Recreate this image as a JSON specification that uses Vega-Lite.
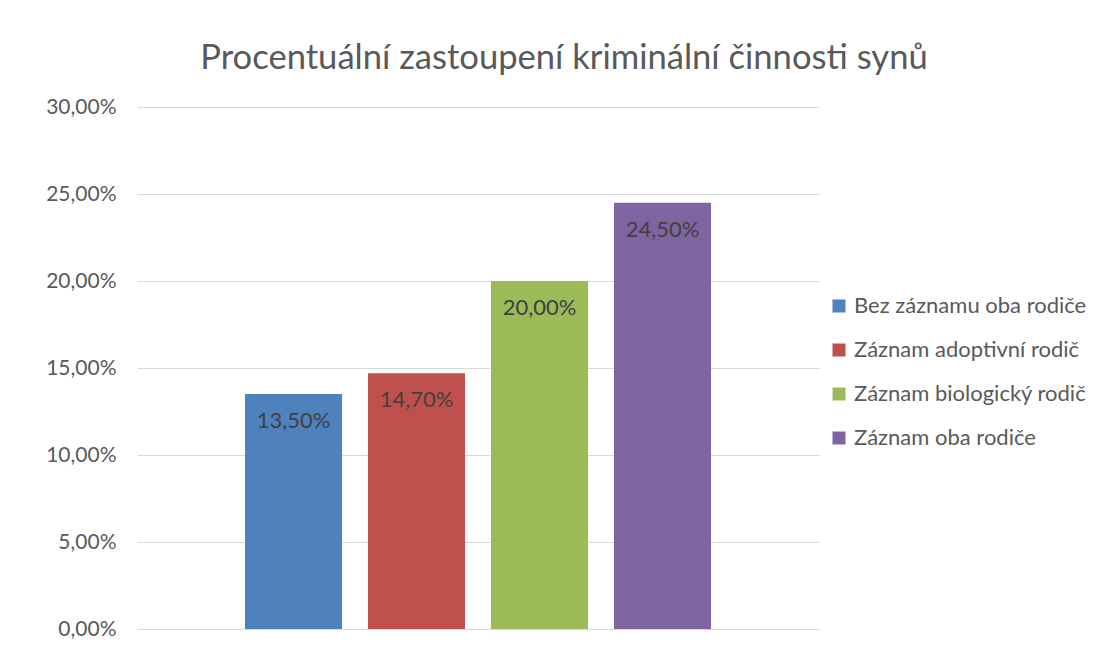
{
  "$schema": "https://vega.github.io/schema/vega-lite/v6.json",
  "width": 682,
  "height": 522,
  "padding": {"left": 45, "top": 41, "right": 5, "bottom": 5},
  "background": "white",
  "config": {
    "locale": {"number": {"decimal": ",", "thousands": " ", "grouping": [3], "currency": ["", " Kč"], "percent": "%"}},
    "view": {"stroke": null},
    "font": "Lato"
  },
  "title": {
    "text": "Procentuální zastoupení kriminální činnosti synů",
    "fontSize": 34.6,
    "fontWeight": "normal",
    "color": "#595959",
    "font": "Lato",
    "anchor": "middle",
    "dx": 86,
    "offset": 19
  },
  "data": {
    "values": [
      {"skupina": "Bez záznamu oba rodiče", "podil": 0.135},
      {"skupina": "Záznam adoptivní rodič", "podil": 0.147},
      {"skupina": "Záznam biologický rodič", "podil": 0.20},
      {"skupina": "Záznam oba rodiče", "podil": 0.245}
    ]
  },
  "encoding": {
    "x": {
      "field": "skupina",
      "type": "nominal",
      "sort": null,
      "scale": {"paddingInner": 0.211, "paddingOuter": 0.878},
      "axis": null
    },
    "y": {
      "field": "podil",
      "type": "quantitative",
      "scale": {"domain": [0, 0.3]},
      "axis": {
        "title": null,
        "format": ".2%",
        "values": [0, 0.05, 0.1, 0.15, 0.2, 0.25, 0.3],
        "domain": false,
        "ticks": false,
        "labelPadding": 21,
        "labelFontSize": 21,
        "labelColor": "#595959",
        "labelFont": "Lato",
        "gridColor": "#d9d9d9",
        "gridWidth": 1
      }
    }
  },
  "layer": [
    {
      "mark": {"type": "bar"},
      "encoding": {
        "color": {
          "field": "skupina",
          "type": "nominal",
          "sort": null,
          "scale": {"range": ["#4F81BD", "#C0504D", "#9BBB59", "#8064A2"]},
          "legend": {
            "title": null,
            "orient": "none",
            "legendX": 691,
            "legendY": 188,
            "symbolType": "square",
            "symbolSize": 169,
            "symbolStrokeWidth": 0,
            "labelFontSize": 22,
            "labelColor": "#595959",
            "labelFont": "Lato",
            "labelLimit": 400,
            "rowPadding": 22,
            "labelOffset": 4
          }
        }
      }
    },
    {
      "mark": {"type": "text", "baseline": "middle", "dy": 27, "fontSize": 22, "color": "#404040", "font": "Lato"},
      "encoding": {
        "text": {"field": "podil", "type": "quantitative", "format": ".2%"}
      }
    }
  ]
}
